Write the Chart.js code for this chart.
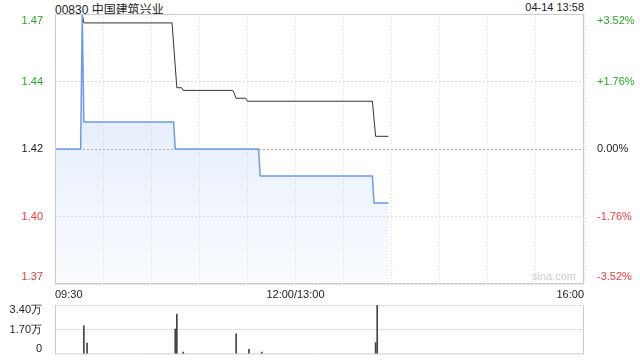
<!DOCTYPE html>
<html>
<head>
<meta charset="utf-8">
<script src="https://cdn.jsdelivr.net/npm/chart.js@4.4.0/dist/chart.umd.min.js"></script>
<style>
  body { margin: 0; background: #fff; width: 640px; height: 360px; position: relative; overflow: hidden; }
  .txt { position: absolute; font-family: "Liberation Sans", Arial, "Noto Sans CJK SC", sans-serif; color: #222; white-space: nowrap; }
  #title { left: 55px; top: 0px; font-size: 12px; font-family: "Liberation Sans", "Noto Sans CJK SC", sans-serif; }
  #stamp { right: 56px; top: 1px; font-size: 11px; }
  #wm { left: 532px; top: 270px; font-size: 11px; color: #ccc; }
  #main { position: absolute; left: 0; top: 0; }
  #vol { position: absolute; left: 0; top: 290px; }
</style>
</head>
<body>
<div class="txt" id="title">00830 中国建筑兴业</div>
<div class="txt" id="stamp">04-14 13:58</div>
<canvas id="main" width="640" height="300"></canvas>
<canvas id="vol" width="640" height="76"></canvas>
<div class="txt" id="wm">sina.com</div>
<script>
// minutes from 09:30 (lunch removed), 330 = 16:00
const prevClose = 1.42;
const priceTicks = [1.37, 1.395, 1.42, 1.445, 1.47];
const priceLabels = ['1.37', '1.40', '1.42', '1.44', '1.47'];
const pctTicks = [-3.52, -1.76, 0, 1.76, 3.52];
const pctLabels = ['-3.52%', '-1.76%', '0.00%', '+1.76%', '+3.52%'];
const timeLabels = { 0: '09:30', 150: '12:00/13:00', 330: '16:00' };

const priceMin = [0, 16, 17, 18, 74, 75, 127, 128, 198, 199, 208];
const priceVal = [1.42, 1.42, 1.47, 1.43, 1.43, 1.42, 1.42, 1.41, 1.41, 1.40, 1.40];

const avgMin = [17, 18, 73, 76, 79, 80, 111, 113, 119, 120, 198, 200, 208];
const avgVal = [1.47, 1.4667, 1.4667, 1.4427, 1.4427, 1.4417, 1.4417, 1.4388, 1.4388, 1.4377, 1.4377, 1.4247, 1.4247];

const volMin = [18, 20, 75, 76, 80, 113, 121, 129, 200, 201];
const volVal = [19600, 7800, 17400, 27800, 1600, 14100, 3500, 1600, 8100, 34000];
const volTicks = [0, 17000, 34000];
const volLabels = ['0', '1.70万', '3.40万'];

const green = '#2aa52a', red = '#f03a3a', dark = '#222';
const font = { family: '"Liberation Sans", Arial, sans-serif', size: 11 };

function tickColor(v, base) {
  if (Math.abs(v - base) < 1e-6) return dark;
  return v > base ? green : red;
}

// end labels sit inside the plot: shift first/last label ticks by px (plot height h)
function insideTicks(s, values, px, h) {
  const d = (s.max - s.min) * px / h;
  s.ticks = values.map((v, i) => ({
    value: i === 0 ? v + d : (i === values.length - 1 ? v - d : v)
  }));
}

const frame = {
  id: 'frame',
  afterDraw(chart) {
    const a = chart.chartArea, c = chart.ctx;
    c.save();
    c.strokeStyle = '#ccc';
    c.lineWidth = 1;
    c.setLineDash([]);
    c.beginPath();
    c.moveTo(a.left + 0.5, a.top); c.lineTo(a.left + 0.5, a.bottom);
    c.moveTo(a.right - 0.5, a.top); c.lineTo(a.right - 0.5, a.bottom);
    c.moveTo(a.left, a.bottom - 0.5); c.lineTo(a.right, a.bottom - 0.5);
    if (chart.canvas.id === 'main') { c.moveTo(a.left, a.top + 0.5); c.lineTo(a.right, a.top + 0.5); }
    c.stroke();
    c.restore();
  }
};

new Chart(document.getElementById('main'), {
  type: 'line',
  data: {
    datasets: [{
      data: priceMin.map((m, i) => ({ x: m, y: priceVal[i] })),
      borderColor: '#6b9bea',
      borderWidth: 1.5,
      borderJoinStyle: 'round',
      pointRadius: 0,
      tension: 0,
      fill: 'start',
      backgroundColor(ctx) {
        const a = ctx.chart.chartArea;
        if (!a) return 'rgba(100,149,237,0.15)';
        const g = ctx.chart.ctx.createLinearGradient(0, a.top, 0, a.bottom);
        g.addColorStop(0, 'rgba(150,185,240,0.35)');
        g.addColorStop(1, 'rgba(150,185,240,0.05)');
        return g;
      },
      yAxisID: 'y'
    }, {
      data: avgMin.map((m, i) => ({ x: m, y: avgVal[i] })),
      borderColor: '#333',
      borderWidth: 1,
      borderJoinStyle: 'round',
      pointRadius: 0,
      tension: 0,
      fill: false,
      yAxisID: 'y'
    }]
  },
  options: {
    responsive: false,
    animation: false,
    layout: { padding: { top: 14, bottom: 0 } },
    plugins: { legend: { display: false }, tooltip: { enabled: false } },
    scales: {
      x: {
        type: 'linear', min: 0, max: 330,
        afterBuildTicks: s => { s.ticks = [0, 30, 60, 90, 120, 150, 180, 210, 240, 270, 300, 330].map(v => ({ value: v })); },
        afterFit: s => { s.height = 16; },
        grid: { color: '#ddd', drawTicks: false },
        border: { display: false, dash: [1, 2] },
        ticks: { autoSkip: false, maxRotation: 0, align: 'inner', padding: 4, color: dark, font, callback: v => timeLabels[v] || '' }
      },
      y: {
        position: 'left', min: 1.37, max: 1.47,
        afterBuildTicks: s => { s.ticks = priceTicks.map(v => ({ value: v })); },
        afterFit: s => { s.width = 0; },
        grid: { color: ctx => (ctx.tick && Math.abs(ctx.tick.value - prevClose) < 1e-6) ? '#aaa' : '#ddd', drawTicks: false },
        border: { display: false, dash: [2, 2] },
        ticks: { display: false }
      },
      yl: {
        position: 'left', min: 1.37, max: 1.47,
        afterBuildTicks: s => insideTicks(s, priceTicks, 7, 270),
        afterFit: s => { s.width = 55; },
        grid: { display: false },
        border: { display: false },
        ticks: { padding: 4, font, color: ctx => tickColor(priceTicks[ctx.index], prevClose), callback: (v, i) => priceLabels[i] }
      },
      y2: {
        position: 'right', min: -3.52, max: 3.52,
        afterBuildTicks: s => insideTicks(s, pctTicks, 7, 270),
        afterFit: s => { s.width = 56; },
        grid: { display: false },
        border: { display: false },
        ticks: { padding: 5, font, color: ctx => tickColor(pctTicks[ctx.index], 0), callback: (v, i) => pctLabels[i] }
      }
    }
  },
  plugins: [frame]
});

new Chart(document.getElementById('vol'), {
  type: 'bar',
  data: {
    datasets: [{
      data: volMin.map((m, i) => ({ x: m, y: volVal[i] })),
      backgroundColor: '#444',
      barThickness: 1
    }]
  },
  options: {
    responsive: false,
    animation: false,
    layout: { padding: { top: 15, bottom: 0, right: 56 } },
    plugins: { legend: { display: false }, tooltip: { enabled: false } },
    scales: {
      x: { type: 'linear', min: 0, max: 330, display: false, offset: false },
      y: {
        min: 0, max: 34000,
        afterBuildTicks: s => { s.ticks = volTicks.map(v => ({ value: v })); },
        afterFit: s => { s.width = 0; },
        grid: { color: ctx => ctx.tick && ctx.tick.value === 0 ? 'rgba(0,0,0,0)' : '#ccc', drawTicks: false },
        border: { display: false, dash: [1, 1] },
        ticks: { display: false }
      },
      yl: {
        position: 'left', min: 0, max: 34000,
        afterBuildTicks: s => insideTicks(s, volTicks, 5, 49),
        afterFit: s => { s.width = 55; },
        grid: { display: false },
        border: { display: false },
        ticks: { padding: 5, font, color: dark, callback: (v, i) => volLabels[i] }
      }
    }
  },
  plugins: [frame]
});
</script>
</body>
</html>
